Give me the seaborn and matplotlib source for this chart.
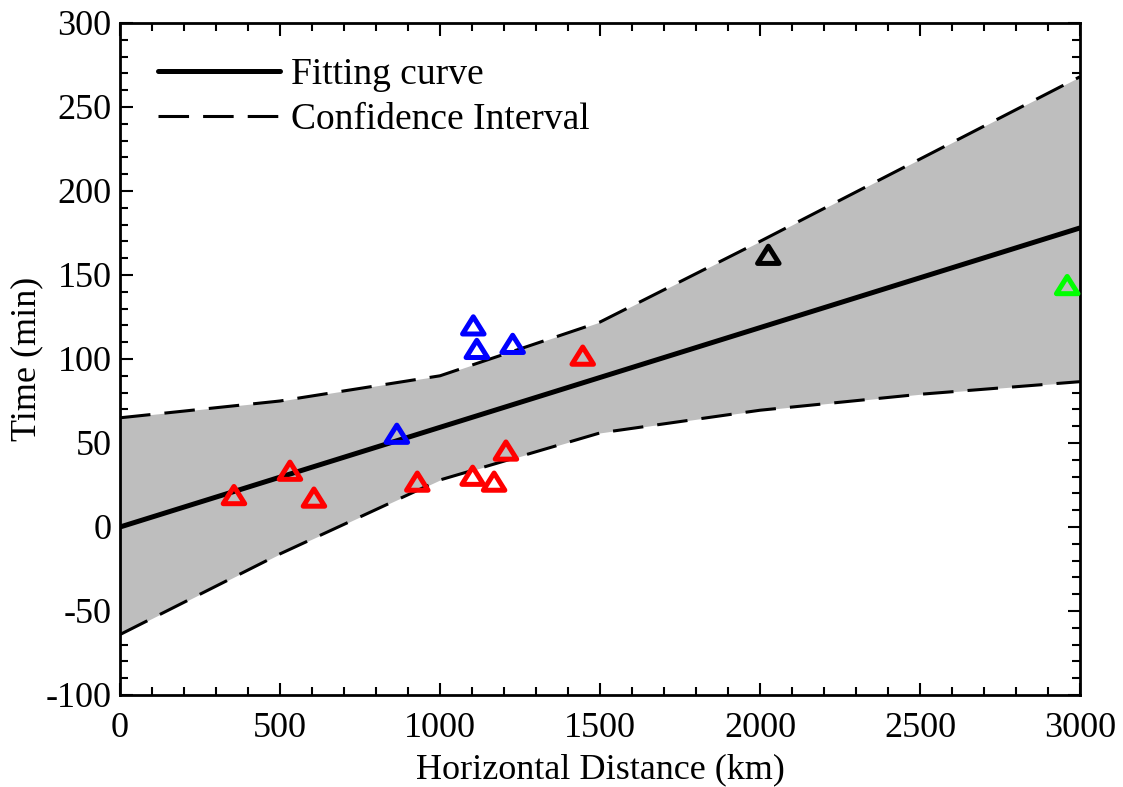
import numpy as np
import pandas as pd
import matplotlib
matplotlib.use("Agg")
import matplotlib.pyplot as plt
from matplotlib.path import Path
from matplotlib.ticker import MultipleLocator
import seaborn as sns

# ---- data ----
fit_x = [0, 3000]
fit_y = [0, 178]

ci_x = [0, 500, 1000, 1500, 2000, 2500, 3000]
ci_upper = [65, 75, 90, 122, 170, 219, 268]
ci_lower = [-64, -16, 28, 56, 69.5, 79, 86.5]

red_x = [356, 531, 606, 929, 1102, 1169, 1206, 1446]
red_y = [19, 33.5, 17.5, 27, 30.5, 27, 45.5, 102]
blue_x = [865, 1104, 1115, 1227]
blue_y = [55.5, 120, 106, 109]
black_x = [2026]
black_y = [162]
green_x = [2960]
green_y = [144]

# ---- style ----
sns.set_style("ticks")
plt.rcParams["font.family"] = ["Liberation Serif", "DejaVu Serif"]
plt.rcParams["axes.unicode_minus"] = False
for k in ["text.color", "axes.labelcolor", "xtick.color", "ytick.color",
          "axes.edgecolor"]:
    plt.rcParams[k] = "black"

fig = plt.figure(figsize=(11.23, 7.87), dpi=100)
ax = fig.add_axes([0.1069, 0.1169, 0.8548, 0.8539])

ax.fill_between(ci_x, ci_lower, ci_upper, color="#bebebe", linewidth=0, zorder=1)

dash = (0, (10.0, 4.6))
sns.lineplot(x=ci_x, y=ci_upper, ax=ax, color="black", linewidth=2.2,
             linestyle=dash, zorder=2, label="Confidence Interval")
sns.lineplot(x=ci_x, y=ci_lower, ax=ax, color="black", linewidth=2.2,
             linestyle=dash, zorder=2)
sns.lineplot(x=fit_x, y=fit_y, ax=ax, color="black", linewidth=3.6,
             zorder=3, label="Fitting curve")

tri = Path([(-1, -0.8), (1, -0.8), (0, 0.8), (-1, -0.8)],
           [Path.MOVETO, Path.LINETO, Path.LINETO, Path.CLOSEPOLY])

for xs, ys, col in [(red_x, red_y, "#ff0000"), (blue_x, blue_y, "#0000ff"),
                    (black_x, black_y, "#000000"), (green_x, green_y, "#00ff00")]:
    sns.scatterplot(x=xs, y=ys, ax=ax, marker=tri, s=240, color=col,
                    facecolors="none", edgecolor=col, linewidth=3.6,
                    zorder=4, clip_on=False)

ax.set_xlim(0, 3000)
ax.set_ylim(-100, 300)
ax.xaxis.set_major_locator(MultipleLocator(500))
ax.xaxis.set_minor_locator(MultipleLocator(100))
ax.yaxis.set_major_locator(MultipleLocator(50))
ax.yaxis.set_minor_locator(MultipleLocator(10))
ax.tick_params(which="both", direction="in", top=True, right=True,
               width=1.5, colors="black", labelsize=26)
ax.tick_params(axis="x", which="both", pad=12)
ax.tick_params(axis="y", which="both", pad=6)
ax.tick_params(which="major", length=9)
ax.tick_params(which="minor", length=6)
for sp in ax.spines.values():
    sp.set_linewidth(2)
    sp.set_color("black")

ax.set_xlabel("Horizontal Distance (km)", fontsize=26, labelpad=6)
ax.set_ylabel("Time (min)", fontsize=26, labelpad=2)

h, l = ax.get_legend_handles_labels()
order = [l.index("Fitting curve"), l.index("Confidence Interval")]
ax.legend([h[i] for i in order], [l[i] for i in order], loc="upper left",
          frameon=False, fontsize=27, handlelength=3.25, handletextpad=0.3,
          labelspacing=0.28, borderaxespad=0.3, bbox_to_anchor=(0.0125, 0.988))

fig.savefig("out.png", dpi=100)
